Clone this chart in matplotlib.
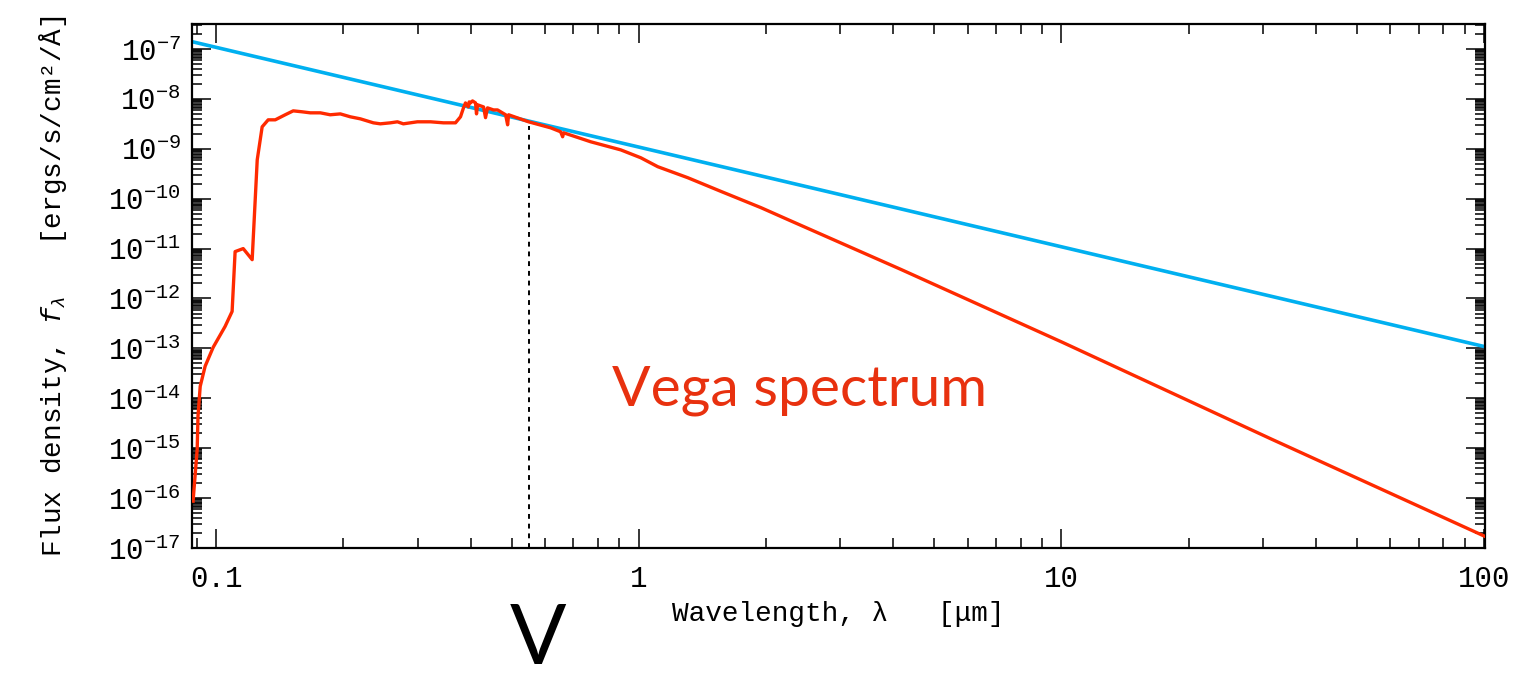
import numpy as np
import matplotlib
matplotlib.use("Agg")
import matplotlib.pyplot as plt
from matplotlib.ticker import LogLocator, FixedLocator, FixedFormatter, NullFormatter

plt.rcParams['font.family'] = ['Liberation Mono', 'DejaVu Sans Mono']
plt.rcParams['mathtext.fontset'] = 'custom'
plt.rcParams['mathtext.rm'] = 'Liberation Mono'
plt.rcParams['mathtext.it'] = 'Liberation Mono:italic'
plt.rcParams['mathtext.bf'] = 'Liberation Mono:bold'

# --- data ---
vega_wavelength = [0.0882, 0.0902, 0.0906, 0.0917, 0.0942, 0.0984, 0.1050, 0.1091,
                   0.1109, 0.1159, 0.1217, 0.1251, 0.1285, 0.1328, 0.1380, 0.1457,
                   0.1522, 0.1599, 0.1670, 0.1764, 0.1862, 0.1967, 0.2077, 0.2194,
                   0.2355, 0.2446, 0.2584, 0.2685, 0.2773, 0.2994, 0.3215, 0.3450,
                   0.3684, 0.3786, 0.3848, 0.3890, 0.3950, 0.3970, 0.3998, 0.4042,
                   0.4109, 0.4131, 0.4154, 0.4292, 0.4339, 0.4386, 0.4532, 0.4632,
                   0.4841, 0.4894, 0.4920, 0.5485, 0.6185, 0.6532, 0.6604, 0.6641,
                   0.7697, 0.9065, 1.011, 1.109, 1.306, 1.564, 1.946, 2.254,
                   4.177, 10.06, 31.45, 100.0]
vega_flux = [8.7e-17, 9.5e-16, 4.4e-15, 1.74e-14, 4.4e-14, 1.05e-13, 2.75e-13, 5.5e-13,
             8.7e-12, 1.0e-11, 6.0e-12, 6.0e-10, 2.75e-9, 3.8e-9, 3.8e-9, 4.8e-9,
             5.75e-9, 5.5e-9, 5.25e-9, 5.25e-9, 4.8e-9, 5.0e-9, 4.37e-9, 3.98e-9,
             3.31e-9, 3.16e-9, 3.31e-9, 3.47e-9, 3.16e-9, 3.47e-9, 3.47e-9, 3.31e-9,
             3.31e-9, 4.37e-9, 6.6e-9, 8.3e-9, 6.9e-9, 8.7e-9, 8.3e-9, 9.1e-9,
             8.3e-9, 5.0e-9, 7.6e-9, 6.9e-9, 4.2e-9, 6.6e-9, 6.0e-9, 6.0e-9,
             4.8e-9, 3.02e-9, 4.8e-9, 3.47e-9, 2.63e-9, 2.19e-9, 1.74e-9, 2.09e-9,
             1.38e-9, 9.5e-10, 6.6e-10, 4.37e-10, 2.63e-10, 1.4e-10, 6.6e-11, 3.8e-11,
             3.8e-12, 1.32e-13, 1.51e-15, 1.74e-17]

flat_wavelength = [0.0877, 100.5]
flat_flux = [1.4e-7, 1.08e-13]

v_band_wavelength = 0.5485
v_band_top = 2.9e-9

xtick_values = [0.1, 1, 10, 100]
xtick_labels = ["0.1", "1", "10", "100"]

red = '#ff2a00'
blue = '#00b0f0'

fig = plt.figure(figsize=(15.18, 6.78), dpi=100)
ax = fig.add_axes([0.1265, 0.1917, 0.8518, 0.7729])

ax.plot(flat_wavelength, flat_flux, color=blue, lw=2.6, solid_capstyle='butt', zorder=2)
ax.plot(vega_wavelength, vega_flux, color=red, lw=2.4, zorder=3)
ax.plot([v_band_wavelength, v_band_wavelength], [1e-17, v_band_top], color='black',
        lw=1.4, linestyle=(0, (2.5, 2.5)), zorder=1)

ax.set_xscale('log')
ax.set_yscale('log')
ax.set_xlim(0.0877, 100.5)
ax.set_ylim(1e-17, 10 ** -6.5)

ax.xaxis.set_major_locator(FixedLocator(xtick_values))
ax.xaxis.set_major_formatter(FixedFormatter(xtick_labels))
ax.xaxis.set_minor_locator(LogLocator(base=10, subs=np.arange(2, 10), numticks=50))
ax.xaxis.set_minor_formatter(NullFormatter())

ax.yaxis.set_major_locator(LogLocator(base=10, numticks=30))
ax.yaxis.set_minor_locator(LogLocator(base=10, subs=[2, 3, 4, 5, 6, 6.5, 7, 7.5, 8, 8.5, 9, 9.5], numticks=300))
ax.yaxis.set_minor_formatter(NullFormatter())

ax.tick_params(which='both', direction='in', top=True, right=True, width=1.1, color='black')
ax.tick_params(which='major', length=14)
ax.tick_params(which='minor', length=7)
ax.tick_params(axis='x', which='major', labelsize=21, pad=12)
ax.tick_params(axis='y', which='major', labelsize=21, pad=8)
for s in ax.spines.values():
    s.set_linewidth(1.6)

ax.set_xlabel('Wavelength, λ   [μm]', fontsize=20, labelpad=6)
ax.set_ylabel(r'Flux density, $f_{λ}$   [ergs/s/cm²/Å]', fontsize=20, labelpad=28)

fig.text(612 / 1518, 1 - 405 / 678, 'Vega spectrum', color='#e8310f', fontsize=41,
         family='Lato', ha='left', va='baseline')
fig.text(538 / 1518, 1 - 664 / 678, 'V', color='black', fontsize=60,
         family='Lato', ha='center', va='baseline')

fig.savefig('out.png', dpi=100)
